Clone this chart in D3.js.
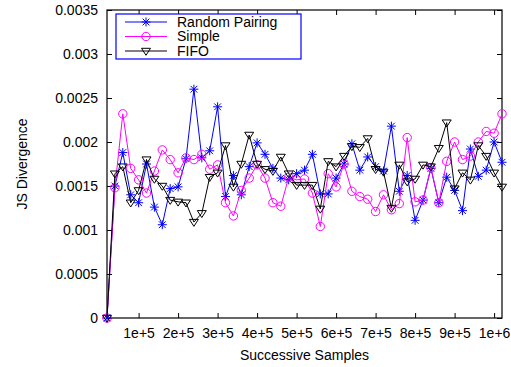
<!DOCTYPE html>
<html>
<head>
<meta charset="utf-8">
<script src="https://cdn.jsdelivr.net/npm/d3@7"></script>
<style>
  body { margin: 0; background: #fff; }
  svg { display: block; font-family: "Liberation Sans", Arial, sans-serif; }
</style>
</head>
<body>
<svg width="511" height="367"></svg>
<script>
// sample counts (x)
const samples = [20000, 40000, 60000, 80000, 100000, 120000, 140000, 160000, 180000, 200000,
  220000, 240000, 260000, 280000, 300000, 320000, 340000, 360000, 380000, 400000,
  420000, 440000, 460000, 480000, 500000, 520000, 540000, 560000, 580000, 600000,
  620000, 640000, 660000, 680000, 700000, 720000, 740000, 760000, 780000, 800000,
  820000, 840000, 860000, 880000, 900000, 920000, 940000, 960000, 980000, 1000000, 1020000];

const randomPairing = [0, 0.00150, 0.00188, 0.00140, 0.00131, 0.00175, 0.00126, 0.00106, 0.00147, 0.00149,
  0.00181, 0.00260, 0.00182, 0.00190, 0.00240, 0.00138, 0.00162, 0.00140, 0.00172, 0.00199,
  0.00186, 0.00170, 0.00159, 0.00157, 0.00164, 0.00168, 0.00186, 0.00141, 0.00141, 0.00159,
  0.00175, 0.00198, 0.00168, 0.00183, 0.00172, 0.00167, 0.00218, 0.00144, 0.00162, 0.00111,
  0.00134, 0.00170, 0.00131, 0.00160, 0.00145, 0.00122, 0.00192, 0.00161, 0.00168, 0.00200, 0.00177];

const simple = [0, 0.00148, 0.00232, 0.00170, 0.00157, 0.00142, 0.00167, 0.00191, 0.00180, 0.00165,
  0.00182, 0.00180, 0.00186, 0.00169, 0.00174, 0.00131, 0.00116, 0.00145, 0.00159, 0.00174,
  0.00159, 0.00131, 0.00127, 0.00160, 0.00157, 0.00158, 0.00142, 0.00104, 0.00164, 0.00149,
  0.00175, 0.00144, 0.00138, 0.00135, 0.00121, 0.00140, 0.00123, 0.00130, 0.00205, 0.00132,
  0.00134, 0.00171, 0.00131, 0.00178, 0.00200, 0.00180, 0.00184, 0.00200, 0.00212, 0.00210, 0.00232];

const fifo = [0, 0.00164, 0.00172, 0.00131, 0.00145, 0.00180, 0.00158, 0.00150, 0.00134, 0.00132,
  0.00131, 0.00109, 0.00119, 0.00160, 0.00165, 0.00196, 0.00149, 0.00175, 0.00208, 0.00175,
  0.00169, 0.00167, 0.00183, 0.00164, 0.00151, 0.00151, 0.00151, 0.00124, 0.00178, 0.00172,
  0.00184, 0.00195, 0.00194, 0.00204, 0.00169, 0.00166, 0.00125, 0.00174, 0.00155, 0.00158,
  0.00174, 0.00172, 0.00193, 0.00222, 0.00147, 0.00165, 0.00157, 0.00196, 0.00184, 0.00165, 0.00149];

const xTicks = [100000, 200000, 300000, 400000, 500000, 600000, 700000, 800000, 900000, 1000000];
const xTickLabels = ["1e+5", "2e+5", "3e+5", "4e+5", "5e+5", "6e+5", "7e+5", "8e+5", "9e+5", "1e+6"];
const yTicks = [0, 0.0005, 0.001, 0.0015, 0.002, 0.0025, 0.003, 0.0035];
const yTickLabels = ["0", "0.0005", "0.001", "0.0015", "0.002", "0.0025", "0.003", "0.0035"];

const seriesNames = ["Random Pairing", "Simple", "FIFO"];
const seriesColors = ["#0000ff", "#ff00ff", "#000000"];
const seriesShapes = ["star", "circle", "tri"];

const svg = d3.select("svg");
const plotLeft = 107, plotRight = 502, plotTop = 10, plotBottom = 318;

const x = d3.scaleLinear().domain([20000, 1020000]).range([plotLeft, plotRight]);
const y = d3.scaleLinear().domain([0, 0.0035]).range([plotBottom, plotTop]);

const fontSize = "14px";

// axes (inward ticks, mirrored)
const xLab = d3.scaleOrdinal().domain(xTicks).range(xTickLabels);
const yLab = d3.scaleOrdinal().domain(yTicks).range(yTickLabels);

const gxb = svg.append("g").attr("transform", `translate(0,${plotBottom})`)
  .call(d3.axisBottom(x).tickValues(xTicks).tickSizeInner(-5).tickSizeOuter(0).tickPadding(10).tickFormat(d => xLab(d)));
const gxt = svg.append("g").attr("transform", `translate(0,${plotTop})`)
  .call(d3.axisTop(x).tickValues(xTicks).tickSizeInner(-5).tickSizeOuter(0).tickFormat(""));
const gyl = svg.append("g").attr("transform", `translate(${plotLeft},0)`)
  .call(d3.axisLeft(y).tickValues(yTicks).tickSizeInner(-5).tickSizeOuter(0).tickPadding(9).tickFormat(d => yLab(d)));
const gyr = svg.append("g").attr("transform", `translate(${plotRight},0)`)
  .call(d3.axisRight(y).tickValues(yTicks).tickSizeInner(-5).tickSizeOuter(0).tickFormat(""));

[gxb, gxt, gyl, gyr].forEach(g => {
  g.select(".domain").remove();
  g.selectAll("line").attr("stroke", "#000");
  g.selectAll("text").attr("fill", "#000").style("font-size", fontSize);
});

svg.append("rect")
  .attr("x", plotLeft).attr("y", plotTop)
  .attr("width", plotRight - plotLeft).attr("height", plotBottom - plotTop)
  .attr("fill", "none").attr("stroke", "#000").attr("stroke-width", 1.2);

// axis titles
svg.append("text")
  .attr("x", (plotLeft + plotRight) / 2).attr("y", 360)
  .attr("text-anchor", "middle").style("font-size", fontSize)
  .text("Successive Samples");

svg.append("text")
  .attr("transform", `translate(27,${(plotTop + plotBottom) / 2}) rotate(-90)`)
  .attr("text-anchor", "middle").style("font-size", fontSize)
  .text("JS Divergence");

// marker drawing
function drawMarker(g, shape, color, cx, cy) {
  if (shape === "star") {
    const r = 4.5;
    const p = `M${cx - r},${cy}H${cx + r}M${cx},${cy - r}V${cy + r}` +
      `M${cx - r * 0.75},${cy - r * 0.75}L${cx + r * 0.75},${cy + r * 0.75}` +
      `M${cx - r * 0.75},${cy + r * 0.75}L${cx + r * 0.75},${cy - r * 0.75}`;
    g.append("path").attr("d", p).attr("stroke", color).attr("stroke-width", 1).attr("fill", "none");
  } else if (shape === "circle") {
    g.append("circle").attr("cx", cx).attr("cy", cy).attr("r", 4.2)
      .attr("fill", "none").attr("stroke", color).attr("stroke-width", 1);
  } else {
    const s = 4.5;
    g.append("path")
      .attr("d", `M${cx - s},${cy - s * 0.6}L${cx + s},${cy - s * 0.6}L${cx},${cy + s * 0.95}Z`)
      .attr("fill", "none").attr("stroke", color).attr("stroke-width", 1);
  }
}

const allSeries = [randomPairing, simple, fifo];
const line = d3.line().x(d => x(d[0])).y(d => y(d[1]));

allSeries.forEach((vals, k) => {
  const pts = samples.map((s, i) => [s, vals[i]]);
  const g = svg.append("g");
  g.append("path").datum(pts)
    .attr("fill", "none").attr("stroke", seriesColors[k]).attr("stroke-width", 1)
    .attr("d", line);
  pts.forEach(p => drawMarker(g, seriesShapes[k], seriesColors[k], x(p[0]), y(p[1])));
});

// legend
const leg = svg.append("g");
leg.append("rect")
  .attr("x", 116).attr("y", 14).attr("width", 185).attr("height", 45)
  .attr("fill", "#fff").attr("stroke", "#0000ff").attr("stroke-width", 1.2);
seriesNames.forEach((name, k) => {
  const ly = 22 + k * 14.5;
  leg.append("line").attr("x1", 125).attr("x2", 167).attr("y1", ly).attr("y2", ly)
    .attr("stroke", seriesColors[k]).attr("stroke-width", 1);
  drawMarker(leg, seriesShapes[k], seriesColors[k], 146, ly);
  leg.append("text").attr("x", 177).attr("y", ly).attr("dy", "0.35em")
    .style("font-size", fontSize).text(name);
});
</script>
</body>
</html>
